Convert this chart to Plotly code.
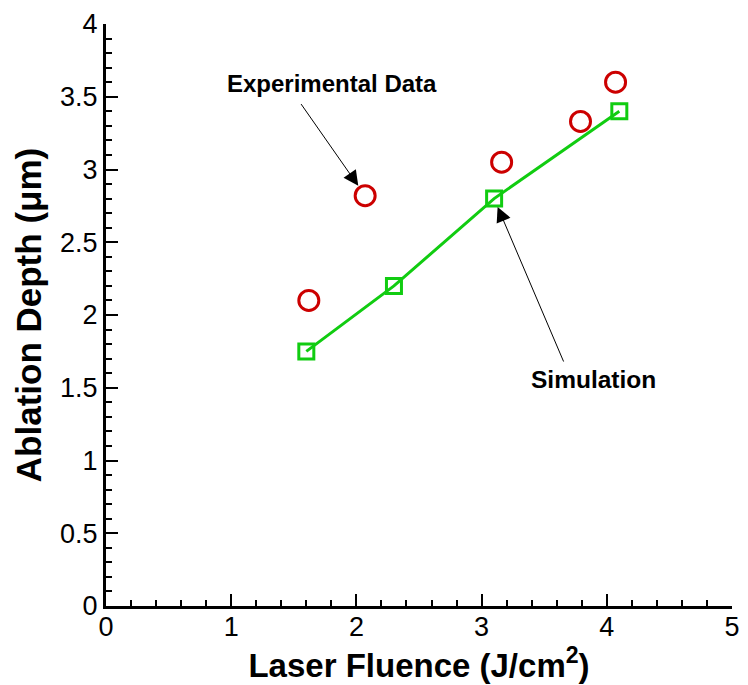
import plotly.graph_objects as go

# Measured ablation depth versus laser fluence
exp_fluence = [1.62, 2.07, 3.16, 3.79, 4.07]
exp_depth = [2.10, 2.82, 3.05, 3.33, 3.60]

# Simulated ablation depth
sim_fluence = [1.60, 2.30, 3.10, 4.10]
sim_depth = [1.75, 2.20, 2.80, 3.40]

FONT = "Liberation Sans, Arial, sans-serif"

fig = go.Figure()
fig.add_trace(go.Scatter(
    x=sim_fluence, y=sim_depth, mode="lines+markers",
    line=dict(color="#11cc11", width=3),
    marker=dict(symbol="square-open", size=15, color="#11cc11",
                line=dict(width=3, color="#11cc11")),
    showlegend=False,
))
fig.add_trace(go.Scatter(
    x=exp_fluence, y=exp_depth, mode="markers",
    marker=dict(symbol="circle-open", size=20, color="#cc0000",
                line=dict(width=3, color="#cc0000")),
    showlegend=False,
))

fig.add_annotation(
    x=exp_fluence[1], y=exp_depth[1], xref="x", yref="y",
    ax=1.55, ay=3.46, axref="x", ayref="y",
    text="", showarrow=True, arrowhead=2, arrowsize=3, arrowwidth=1,
    standoff=12, arrowcolor="black",
)
fig.add_annotation(
    x=1.806, y=3.59, xref="x", yref="y", text="<b>Experimental Data</b>",
    showarrow=False, font=dict(family=FONT, size=24, color="black"),
)
fig.add_annotation(
    x=sim_fluence[2], y=sim_depth[2], xref="x", yref="y",
    ax=3.66, ay=1.67, axref="x", ayref="y",
    text="", showarrow=True, arrowhead=2, arrowsize=3, arrowwidth=1,
    standoff=9, arrowcolor="black",
)
fig.add_annotation(
    x=3.89, y=1.555, xref="x", yref="y", text="<b>Simulation</b>",
    showarrow=False, font=dict(family=FONT, size=24.5, color="black"),
)

axis_common = dict(
    showline=True, linecolor="black", linewidth=3, mirror=False,
    showgrid=False, zeroline=False,
    ticks="inside", ticklen=12, tickwidth=2, tickcolor="black",
    tickfont=dict(family=FONT, size=27, color="black"),
)

fig.update_xaxes(
    range=[0, 5], tick0=0, dtick=1,
    ticklabelstandoff=-5,
    minor=dict(dtick=0.2, ticks="inside", ticklen=6, tickwidth=1.5, tickcolor="black"),
    title=dict(text="<b>Laser Fluence (J/cm<sup>2</sup>)</b>",
               font=dict(family=FONT, size=33, color="black"), standoff=4),
    **axis_common,
)
fig.update_yaxes(
    range=[0, 4], tick0=0, dtick=0.5,
    minor=dict(dtick=0.1, ticks="inside", ticklen=6, tickwidth=1.5, tickcolor="black"),
    title=dict(text="<b>Ablation Depth (\u03bcm)</b>",
               font=dict(family=FONT, size=35, color="black"), standoff=8),
    **axis_common,
)

fig.update_layout(
    width=748, height=685,
    margin=dict(l=106, r=8, t=24, b=79),
    plot_bgcolor="white", paper_bgcolor="white",
)

fig.write_html("out.html")
